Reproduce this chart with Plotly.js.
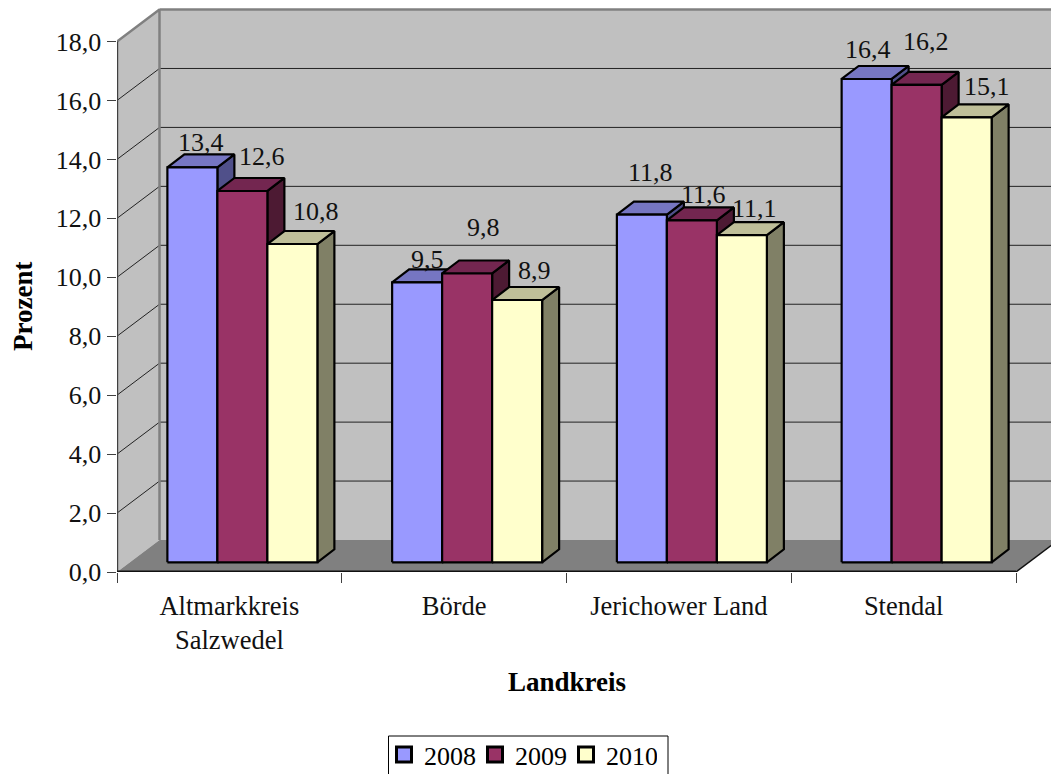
<!DOCTYPE html>
<html>
<head>
<meta charset="utf-8">
<script src="https://cdn.plot.ly/plotly-3.0.1.min.js"></script>
<style>html,body{margin:0;padding:0;background:#fff;overflow:hidden}</style>
</head>
<body>
<div id="chart" style="width:1051px;height:774px"></div>
<script>
// Arbeitslosenquote nach Landkreis, drawn as a pseudo-3D column chart
const categories = ['Altmarkkreis<br>Salzwedel', 'Börde', 'Jerichower Land', 'Stendal'];
const years = ['2008', '2009', '2010'];
const values2008 = [13.4, 9.5, 11.8, 16.4];
const values2009 = [12.6, 9.8, 11.6, 16.2];
const values2010 = [10.8, 8.9, 11.1, 15.1];
const yTicks = [0, 2, 4, 6, 8, 10, 12, 14, 16, 18];
const yTickText = ['0,0', '2,0', '4,0', '6,0', '8,0', '10,0', '12,0', '14,0', '16,0', '18,0'];

const front2008 = '#9999ff', top2008 = '#7676c2', side2008 = '#50508a';
const front2009 = '#993366', top2009 = '#732650', side2009 = '#4d1a33';
const front2010 = '#ffffcc', top2010 = '#bfbf99', side2010 = '#808066';

// Label offsets in pixels from the middle of each column's front top edge
const labelDx = [[9, 10, 9, 1], [20, 16, 12, 9], [24, 17, 13, 20]];
const labelDy = [[25, 23, 42, 29], [34, 46, 26, 43], [33, 30, 27, 31]];

// Scale: one category is 224.75 px wide, one y unit is 29.47 px tall
const pxX = 224.75, pxY = 29.47;
const plotW = 934, plotH = 572;
const wallDX = 42.5 / pxX, wallDY = 32 / pxY;      // depth of the room
const baseDX = 13 / pxX, baseDY = 9.7 / pxY;       // where the columns stand on the floor
const barW = 50 / pxX;
const barDX = 17 / pxX, barDY = 13 / pxY;          // depth of one column

const serif = '"Liberation Serif", "Times New Roman", serif';
const allValues = [values2008, values2009, values2010];
const colours = [
  [front2008, top2008, side2008],
  [front2009, top2009, side2009],
  [front2010, top2010, side2010]
];
const n = categories.length;
const traces = [];

// Paper fractions measured from the plot's lower left corner
const paperX = px => (px - 117) / plotW;
const paperY = px => (plotH - px) / plotH;

function poly(xs, ys, fill, lineColor, lineWidth) {
  traces.push({
    type: 'scatter', mode: 'lines', x: xs, y: ys, fill: 'toself', fillcolor: fill,
    line: { color: lineColor, width: lineWidth, simplify: false }, connectgaps: false,
    showlegend: false, hoverinfo: 'skip'
  });
}
function line(xs, ys, colour, width) {
  traces.push({
    type: 'scatter', mode: 'lines', x: xs, y: ys,
    line: { color: colour, width: width, simplify: false },
    showlegend: false, hoverinfo: 'skip'
  });
}

// Room: back wall, left wall, floor
poly([wallDX, n + wallDX, n + wallDX, wallDX, wallDX], [wallDY, wallDY, 18 + wallDY, 18 + wallDY, wallDY], '#c0c0c0', 'rgba(0,0,0,0)', 0);
poly([0, wallDX, wallDX, 0, 0], [0, wallDY, 18 + wallDY, 18, 0], '#c0c0c0', 'rgba(0,0,0,0)', 0);

// Gridlines run across the back wall and down the left wall
yTicks.filter(v => v > 0 && v < 18).forEach(v => {
  line([0, wallDX, n + wallDX], [v, v + wallDY, v + wallDY], '#222222', 1);
});

poly([0, wallDX, n + wallDX, n, 0], [0, wallDY, wallDY, 0, 0], '#808080', 'rgba(0,0,0,0)', 0);

// Wall edges
line([0, wallDX, wallDX], [18, 18 + wallDY, wallDY], '#808080', 2.5);
line([wallDX, n + wallDX], [18 + wallDY, 18 + wallDY], '#808080', 2.5);

// Axis lines and the front edge of the floor (half of each falls outside the plot area)
line([0, 0], [0, 18], '#404040', 2.4);
line([0, n], [0, 0], '#111111', 3);
line([n, n + wallDX], [0, wallDY], '#111111', 1.4);

// Columns: side, top and front of each year, back to front
allValues.forEach((vals, s) => {
  const fx = [], fy = [], tx = [], ty = [], sx = [], sy = [];
  vals.forEach((v, c) => {
    const x0 = c + 0.5 + baseDX + (s - 1.5) * barW;
    const x1 = x0 + barW;
    const y0 = baseDY;
    const y1 = baseDY + v;
    fx.push(x0, x1, x1, x0, x0, null);
    fy.push(y0, y0, y1, y1, y0, null);
    tx.push(x0, x1, x1 + barDX, x0 + barDX, x0, null);
    ty.push(y1, y1, y1 + barDY, y1 + barDY, y1, null);
    sx.push(x1, x1 + barDX, x1 + barDX, x1, x1, null);
    sy.push(y0, y0 + barDY, y1 + barDY, y1, y0, null);
  });
  poly(sx, sy, colours[s][2], '#000000', 2.2);
  poly(tx, ty, colours[s][1], '#000000', 2.2);
  poly(fx, fy, colours[s][0], '#000000', 2.2);
});

// Legend entries
years.forEach((name, s) => {
  traces.push({
    type: 'scatter', mode: 'markers', x: [null], y: [null], name: name,
    marker: { symbol: 'square', size: 15, color: colours[s][0], line: { color: '#000000', width: 3 } },
    hoverinfo: 'skip', showlegend: true
  });
});

// Value labels
const annotations = [];
allValues.forEach((vals, s) => {
  vals.forEach((v, c) => {
    annotations.push({
      x: c + 0.5 + baseDX + (s - 1) * barW,
      y: baseDY + v,
      xref: 'x', yref: 'y',
      text: v.toFixed(1).replace('.', ','),
      showarrow: false,
      xanchor: 'center', yanchor: 'middle',
      xshift: labelDx[s][c], yshift: labelDy[s][c],
      font: { family: serif, size: 26, color: '#111111' }
    });
  });
});

// Axis titles
annotations.push({
  xref: 'paper', yref: 'paper', x: paperX(566.5), y: paperY(682),
  text: '<b>Landkreis</b>', showarrow: false, xanchor: 'center', yanchor: 'middle',
  font: { family: serif, size: 27, color: '#000000' }
});
annotations.push({
  xref: 'paper', yref: 'paper', x: paperX(23), y: paperY(307),
  text: '<b>Prozent</b>', textangle: -90, showarrow: false, xanchor: 'center', yanchor: 'middle',
  font: { family: serif, size: 27, color: '#000000' }
});

const layout = {
  width: 1051, height: 774,
  margin: { l: 117, r: 0, t: 0, b: 202, pad: 0, autoexpand: false },
  paper_bgcolor: '#ffffff',
  plot_bgcolor: 'rgba(0,0,0,0)',
  showlegend: true,
  font: { family: serif, size: 26, color: '#000000' },
  xaxis: {
    range: [0, plotW / pxX], fixedrange: true, showgrid: false, zeroline: false, showline: false,
    tickmode: 'array',
    tickvals: categories.map((_, i) => i + 0.5),
    ticktext: categories,
    ticks: 'outside', ticklen: 10, tickcolor: 'rgba(0,0,0,0)',
    tickfont: { family: serif, size: 26.5, color: '#111111' },
    minor: { tickmode: 'array', tickvals: [0, 1, 2, 3, 4], ticks: 'outside', ticklen: 10, tickcolor: '#404040', tickwidth: 1, showgrid: false }
  },
  yaxis: {
    range: [0, plotH / pxY], fixedrange: true, showgrid: false, zeroline: false, showline: false,
    tickmode: 'array', tickvals: yTicks, ticktext: yTickText,
    ticks: 'outside', ticklen: 9.5, tickcolor: '#404040', tickwidth: 1,
    tickfont: { family: serif, size: 26, color: '#111111' }
  },
  // Legend frame runs off the lower page edge, the entries sit inside it
  shapes: [{
    type: 'rect', xref: 'paper', yref: 'paper', layer: 'below',
    x0: paperX(388.5), x1: paperX(668), y0: paperY(736), y1: paperY(780),
    fillcolor: '#ffffff', line: { color: '#000000', width: 1 }
  }],
  legend: {
    orientation: 'h',
    x: paperX(384), xanchor: 'left',
    y: paperY(731), yanchor: 'top',
    bgcolor: 'rgba(0,0,0,0)', borderwidth: 0,
    font: { family: serif, size: 26, color: '#000000' },
    entrywidthmode: 'pixels', entrywidth: 46,
    itemsizing: 'trace', traceorder: 'normal',
    itemclick: false, itemdoubleclick: false
  },
  annotations: annotations
};

Plotly.newPlot('chart', traces, layout, { displayModeBar: false, staticPlot: true });
</script>
</body>
</html>
